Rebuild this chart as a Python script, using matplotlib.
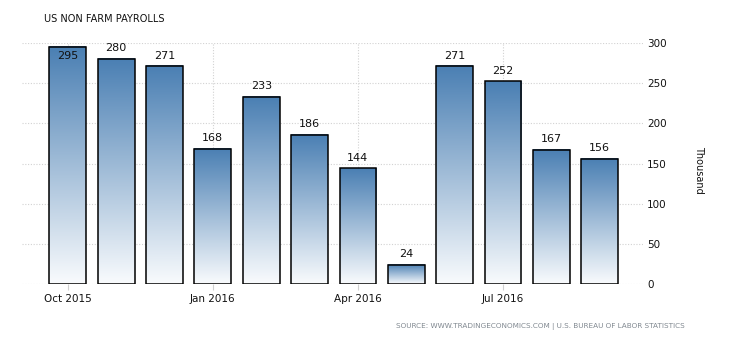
import matplotlib
matplotlib.use("Agg")
import matplotlib.pyplot as plt
import numpy as np
from matplotlib.colors import LinearSegmentedColormap

months = ["Oct 2015", "Nov 2015", "Dec 2015", "Jan 2016", "Feb 2016", "Mar 2016",
          "Apr 2016", "May 2016", "Jun 2016", "Jul 2016", "Aug 2016", "Sep 2016"]
payrolls = [295, 280, 271, 168, 233, 186, 144, 24, 271, 252, 167, 156]
tick_labels = ["Oct 2015", "Jan 2016", "Apr 2016", "Jul 2016"]
y_ticks = [0, 50, 100, 150, 200, 250, 300]

fig = plt.figure(figsize=(7.3, 3.4), dpi=100)
ax = fig.add_axes([0.030, 0.164, 0.851, 0.710])

cmap = LinearSegmentedColormap.from_list("grad", ["#f9fbfd", "#4a7fb3"])
grad = np.linspace(0, 1, 256).reshape(-1, 1)

x = np.arange(len(months))
w = 0.76
for xi, v in zip(x, payrolls):
    ax.imshow(grad, extent=[xi - w / 2, xi + w / 2, 0, v], origin="lower",
              cmap=cmap, aspect="auto", zorder=2)
ax.bar(x, payrolls, width=w, facecolor="none", edgecolor="black", linewidth=1.1, zorder=3)

for xi, v in zip(x, payrolls):
    if v > 290:
        ax.text(xi, v - 5, str(v), ha="center", va="top", fontsize=8, color="#111111", zorder=4)
    else:
        ax.text(xi, v + 7, str(v), ha="center", va="bottom", fontsize=8, color="#111111", zorder=4)

ax.set_xlim(-0.95, 11.9)
ax.set_ylim(0, 300)

tick_pos = [months.index(t) for t in tick_labels]
ax.set_xticks(tick_pos)
ax.set_xticklabels(tick_labels, fontsize=7.5, color="#111111")
ax.yaxis.tick_right()
ax.set_yticks(y_ticks)
ax.set_yticklabels([str(t) for t in y_ticks], fontsize=7.5, color="#111111")
ax.tick_params(axis="x", length=4, color="#d0d0d0", pad=3)
ax.tick_params(axis="y", length=0, pad=3)

ax.grid(True, color="#d2d2d2", linestyle=(0, (1, 1.5)), linewidth=0.8, zorder=0)
ax.set_axisbelow(True)
for s in ax.spines.values():
    s.set_visible(False)

fig.text(0.958, 0.5, "Thousand", rotation=270, ha="center", va="center", fontsize=7, color="#111111")
fig.text(0.060, 0.945, "US NON FARM PAYROLLS", ha="left", va="center", fontsize=7, color="#111111")
fig.text(0.938, 0.040, "SOURCE: WWW.TRADINGECONOMICS.COM | U.S. BUREAU OF LABOR STATISTICS",
         ha="right", va="center", fontsize=5.2, color="#808890")

fig.savefig("out.png", dpi=100)
